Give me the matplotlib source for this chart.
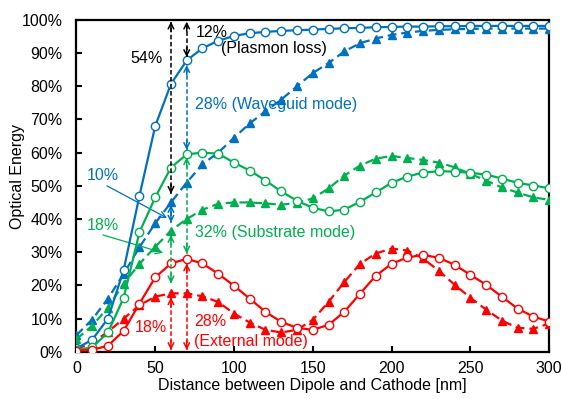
import numpy as np
import matplotlib
matplotlib.use("Agg")
import matplotlib.pyplot as plt

plt.rcParams['font.family'] = ['Liberation Sans', 'DejaVu Sans']
plt.rcParams['font.size'] = 11.5

# distance between dipole and cathode [nm]
dist = np.arange(0, 310, 10)

# blue solid : plasmon loss boundary (open circles)
blue_solid = [1.0, 3.6, 10.0, 24.7, 47.0, 68.0, 80.7, 87.8, 91.5, 93.7, 95.2, 96.0, 96.4, 96.7, 96.9,
              97.1, 97.3, 97.5, 97.6, 97.8, 97.9, 98.0, 98.0, 98.1, 98.1, 98.2, 98.2, 98.2, 98.2, 98.2, 98.2]
# blue dashed : waveguide boundary (triangles)
blue_dash = [5.0, 9.7, 16.0, 23.5, 31.5, 38.7, 45.0, 51.0, 56.5, 60.0, 64.5, 68.8, 72.5, 76.0, 80.0,
             84.0, 87.0, 90.5, 93.0, 94.4, 95.5, 96.2, 96.7, 97.0, 97.2, 97.3, 97.4, 97.4, 97.4, 97.4, 97.4]
# green solid (open circles)
green_solid = [0.6, 1.3, 5.8, 16.3, 36.0, 46.5, 55.5, 59.5, 60.0, 59.7, 57.0, 54.6, 51.6, 48.3, 45.5,
               43.4, 42.3, 42.8, 45.2, 48.0, 50.9, 52.8, 54.0, 54.4, 54.3, 53.9, 53.4, 52.2, 50.9, 50.1, 49.3]
# green dashed (triangles)
green_dash = [3.8, 7.8, 13.3, 20.5, 26.5, 31.6, 36.5, 40.0, 42.8, 44.6, 45.0, 45.0, 44.7, 44.3, 44.9,
              46.2, 49.2, 53.1, 56.1, 58.2, 59.0, 58.4, 57.8, 57.0, 55.6, 53.6, 51.6, 49.5, 48.0, 46.5, 45.8]
# red solid (open circles)
red_solid = [0.3, 0.6, 1.8, 6.3, 14.5, 22.4, 26.6, 28.0, 26.6, 23.5, 19.9, 16.0, 12.0, 9.0, 7.2,
             6.6, 8.1, 12.0, 17.5, 22.9, 26.5, 28.4, 29.2, 28.3, 26.2, 23.2, 20.2, 16.6, 13.0, 10.6, 9.1]
# red dashed (triangles)
red_dash = [0.8, 2.7, 6.0, 10.0, 14.0, 16.6, 17.6, 17.6, 16.7, 15.0, 11.5, 8.8, 6.6, 5.8, 6.6,
            9.6, 15.0, 21.0, 26.5, 29.6, 31.1, 30.5, 28.1, 24.4, 20.2, 16.3, 12.7, 9.4, 7.2, 6.9, 8.5]

blue = '#0070C0'
green = '#00B050'
red = '#FF0000'

fig, ax = plt.subplots(figsize=(5.62, 3.99), dpi=100)
fig.subplots_adjust(left=0.136, right=0.977, bottom=0.1185, top=0.95)

dash = (4, 2.2)
for y, c in [(blue_dash, blue), (green_dash, green), (red_dash, red)]:
    ax.plot(dist, y, color=c, lw=1.6, dashes=dash, marker='^', ms=6,
            mfc=c, mec=c, zorder=3)
for y, c in [(blue_solid, blue), (green_solid, green), (red_solid, red)]:
    ax.plot(dist, y, color=c, lw=1.6, marker='o', ms=6,
            mfc='white', mec=c, mew=1.0, zorder=4)


# dashed double arrows
def darrow(x, y0, y1, c):
    ax.plot([x, x], [y0, y1], color=c, lw=1.1, ls=(0, (3, 1.6)), zorder=5)
    for tip, off in [(y0, 7), (y1, -7)]:
        ax.annotate('', xy=(x, tip), xytext=(0, off), textcoords='offset points',
                    arrowprops=dict(arrowstyle='->', color=c, lw=1.1,
                                    mutation_scale=10, shrinkA=0, shrinkB=0),
                    zorder=6)


darrow(60, 47.6, 99.5, 'black')
darrow(70, 88.8, 99.5, 'black')
darrow(70, 60.8, 86.4, blue)
darrow(60, 38.9, 44.2, blue)
darrow(60, 20.6, 35.2, green)
darrow(70, 29.6, 58.6, green)
darrow(60, 0.5, 16.4, red)
darrow(70, 0.5, 26.6, red)

# pointer lines
ax.annotate('', xy=(57.5, 40.3), xytext=(19.4, 50.0),
            arrowprops=dict(arrowstyle='->', color=blue, lw=0.9, shrinkA=0, shrinkB=0))
ax.annotate('', xy=(55.0, 29.8), xytext=(16.8, 35.2),
            arrowprops=dict(arrowstyle='->', color=green, lw=0.9, shrinkA=0, shrinkB=0))

fs = 11.5
ax.text(34, 88.3, '54%', color='black', fontsize=fs, ha='left', va='center')
ax.text(76, 96.2, '12%', color='black', fontsize=fs, ha='left', va='center')
ax.text(92, 91.4, '(Plasmon loss)', color='black', fontsize=fs, ha='left', va='center')
ax.text(75.5, 74.6, '28% (Waveguid mode)', color=blue, fontsize=fs, ha='left', va='center')
ax.text(6.5, 53.0, '10%', color=blue, fontsize=fs, ha='left', va='center')
ax.text(6.5, 38.0, '18%', color=green, fontsize=fs, ha='left', va='center')
ax.text(75.5, 35.8, '32% (Substrate mode)', color=green, fontsize=fs, ha='left', va='center')
ax.text(37, 7.4, '18%', color=red, fontsize=fs, ha='left', va='center')
ax.text(74.5, 9.2, '28%', color=red, fontsize=fs, ha='left', va='center')
ax.text(74.5, 3.2, '(External mode)', color=red, fontsize=fs, ha='left', va='center')

ax.set_xlim(0, 300)
ax.set_ylim(0, 100)
ax.set_xticks(np.arange(0, 301, 50))
ax.set_yticks(np.arange(0, 101, 10))
ax.set_yticklabels([f'{v}%' for v in range(0, 101, 10)])
ax.tick_params(direction='in', length=4, width=1.5, labelsize=11.5)
ax.tick_params(axis='y', pad=10)
ax.tick_params(axis='x', pad=7)
for s in ax.spines.values():
    s.set_linewidth(1.6)

ax.set_xlabel('Distance between Dipole and Cathode [nm]', fontsize=11.5, labelpad=1)
ax.set_ylabel('Optical Energy', fontsize=11.5)
ax.yaxis.set_label_coords(-0.109, 0.527)

fig.savefig('out.png', dpi=100)
